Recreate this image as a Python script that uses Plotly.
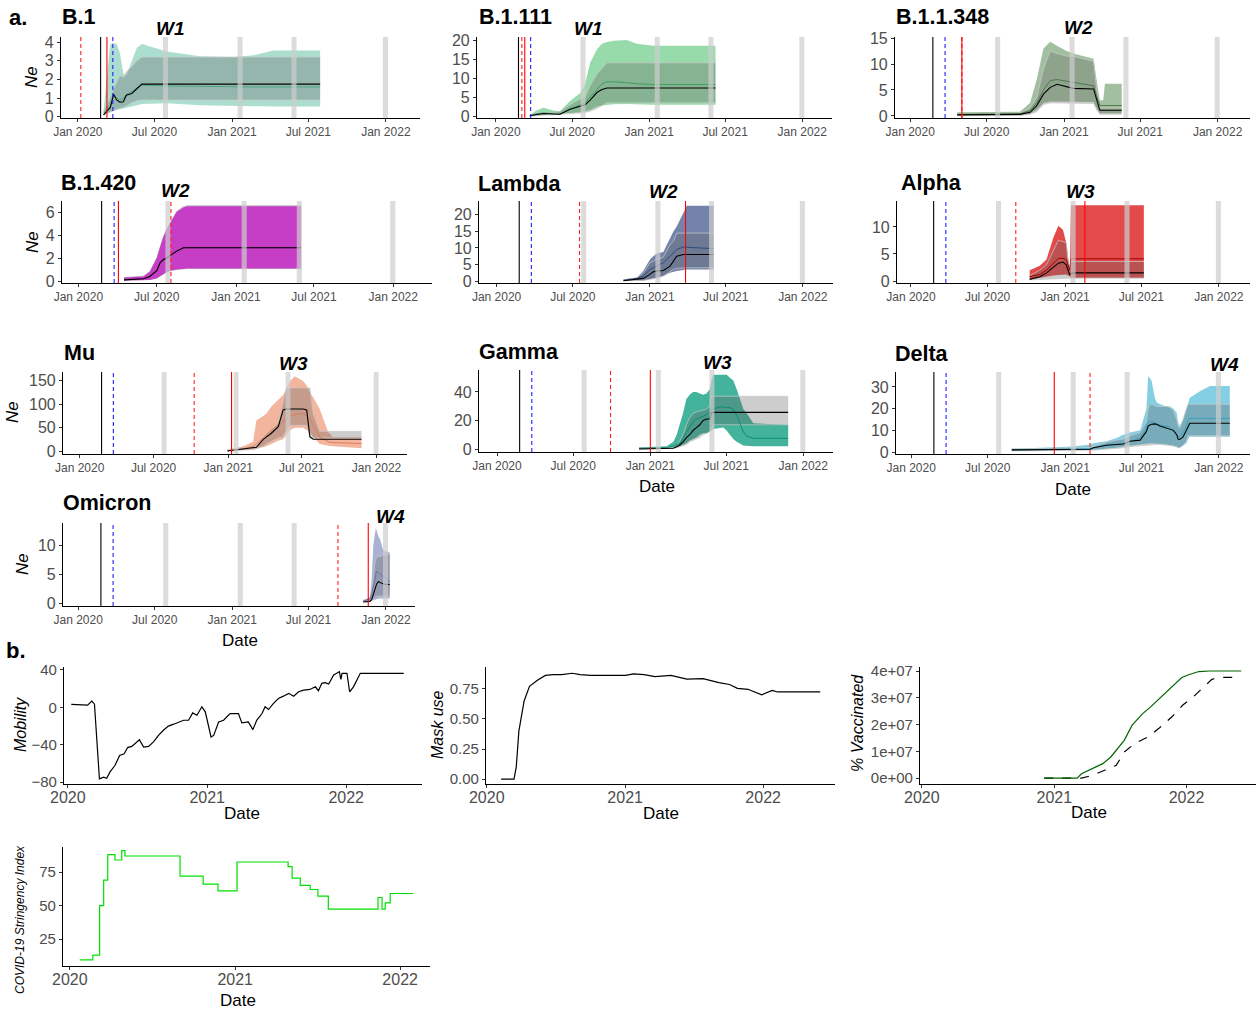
import plotly.graph_objects as go

FIG_W, FIG_H = 1257, 1010
FONT = "Liberation Sans, Arial, sans-serif"

# ---------------- tick labels ----------------
MONTH_TICKS = ["2020-01-01", "2020-07-01", "2021-01-01", "2021-07-01", "2022-01-01"]
MONTH_LABELS = ["Jan 2020", "Jul 2020", "Jan 2021", "Jul 2021", "Jan 2022"]
YEAR_TICKS = ["2020-01-01", "2021-01-01", "2022-01-01"]
YEAR_LABELS = ["2020", "2021", "2022"]

# ---------------- common event markers ----------------
GREY_BAR_START = ["2020-07-21", "2021-01-14", "2021-05-22", "2021-12-25"]
GREY_BAR_END = ["2020-08-02", "2021-01-26", "2021-06-03", "2022-01-06"]
BLACK_LINE_DATE = "2020-02-24"
BLUE_LINE_DATE = "2020-03-24"

VARIANTS = ["B.1", "B.1.111", "B.1.1.348", "B.1.420", "Lambda", "Alpha", "Mu", "Gamma", "Delta", "Omicron"]
WAVES = ["W1", "W1", "W2", "W2", "W2", "W3", "W3", "W3", "W4", "W4"]
RED_DASHED_DATES = ["2020-01-08", "2020-03-03", "2020-05-03", "2020-08-03", "2020-07-17",
                    "2020-09-06", "2020-10-09", "2020-09-28", "2021-03-01", "2021-09-09"]
RED_SOLID_DATES = ["2020-03-10", "2020-03-10", "2020-05-03", "2020-04-03", "2021-03-27",
                   "2021-02-17", "2021-01-09", "2021-01-01", "2020-12-06", "2021-11-20"]

# ---------------- Ne data ----------------
B1_DATES = ["2020-03-02", "2020-03-18", "2020-03-26", "2020-04-02", "2020-04-10", "2020-04-18", "2020-04-25",
            "2020-05-08", "2020-05-20", "2020-06-01", "2020-07-30", "2020-10-17", "2021-01-04", "2021-02-21",
            "2021-04-09", "2021-07-29"]
B1_COL_LO = [0.1, 0.25, 0.35, 0.4, 0.4, 0.45, 0.5, 0.55, 0.62, 0.68, 0.72, 0.62, 0.58, 0.56, 0.55, 0.55]
B1_COL_HI = [0.3, 3.9, 3.95, 3.9, 3.4, 2.3, 2.2, 3.0, 3.7, 3.9, 3.5, 3.25, 3.2, 3.3, 3.55, 3.55]
B1_GR_LO = [0.1, 0.25, 0.35, 0.4, 0.45, 0.5, 0.6, 0.75, 0.85, 0.9, 0.9, 0.9, 0.9, 0.9, 0.9, 0.9]
B1_GR_HI = [0.3, 1.0, 1.5, 1.8, 2.2, 2.1, 2.4, 2.7, 3.0, 3.2, 3.2, 3.2, 3.2, 3.2, 3.2, 3.2]
B1_COL_MED = [0.1, 0.6, 1.2, 1.0, 0.9, 1.0, 1.2, 1.35, 1.55, 1.7, 1.65, 1.62, 1.6, 1.6, 1.6, 1.6]
B1_MED = [0.1, 0.5, 1.2, 0.9, 0.78, 0.8, 1.15, 1.25, 1.5, 1.75, 1.75, 1.75, 1.75, 1.75, 1.75, 1.75]

B111_DATES = ["2020-03-22", "2020-04-07", "2020-04-23", "2020-05-17", "2020-06-02", "2020-06-26", "2020-07-20",
              "2020-08-01", "2020-08-13", "2020-08-29", "2020-09-10", "2020-09-22", "2020-10-08", "2020-11-08",
              "2020-12-02", "2021-01-11", "2021-06-08"]
B111_COL_LO = [0, 0.2, 0.3, 0.4, 0.5, 0.8, 1.0, 1.2, 1.6, 2.5, 2.8, 3.0, 3.1, 3.2, 3.1, 3.0, 3.0]
B111_COL_HI = [0.2, 1.5, 2.2, 1.5, 1.3, 4.0, 6.0, 8.5, 14, 17.5, 19, 19.5, 19.8, 20, 19, 18.5, 18.5]
B111_GR_LO = [0, 0.1, 0.2, 0.3, 0.4, 0.5, 0.8, 1.0, 1.3, 2.0, 2.8, 3.5, 3.5, 3.5, 3.5, 3.5, 3.5]
B111_GR_HI = [0.2, 0.8, 1.0, 1.0, 1.2, 3.0, 4.5, 5.0, 8.0, 11.0, 12.5, 14, 14, 14, 14, 14, 14]
B111_COL_MED = [0.1, 0.6, 0.8, 0.6, 0.5, 1.8, 2.8, 3.5, 5.0, 7.0, 8.5, 9.0, 9.0, 8.8, 8.5, 8.3, 8.3]
B111_MED = [0.1, 0.5, 0.7, 0.55, 0.5, 1.8, 2.5, 3.0, 4.2, 6.2, 7.0, 7.4, 7.4, 7.4, 7.4, 7.4, 7.4]

B11348_DATES = ["2020-04-22", "2020-09-18", "2020-10-12", "2020-10-28", "2020-11-13", "2020-11-29", "2020-12-15",
                "2021-01-07", "2021-01-23", "2021-03-12", "2021-03-21", "2021-03-27", "2021-04-04", "2021-04-08",
                "2021-05-18"]
B11348_COL_LO = [0.1, 0.1, 0.4, 1.2, 2.5, 2.8, 2.8, 2.8, 2.8, 2.7, 1.2, 0.5, 0.5, 0.5, 0.5]
B11348_COL_HI = [0.7, 0.8, 2.5, 7, 13, 14.3, 13.5, 12.5, 12, 11, 6, 3, 3, 6.2, 6.2]
B11348_GR_LO = [0.05, 0.1, 0.3, 0.8, 2.2, 2.5, 2.5, 2.5, 2.5, 2.4, 1.0, 0.3, 0.3, 0.3, 0.3]
B11348_GR_HI = [0.3, 0.5, 1.5, 3.5, 9, 12.5, 12, 11.5, 11.5, 10.5, 4, 1.5, 1.5, 1.5, 1.5]
B11348_COL_MED = [0.3, 0.4, 1.0, 2.5, 5, 6.8, 7, 6.7, 6.5, 5.8, 3.5, 2, 2, 2, 2]
B11348_MED = [0.2, 0.3, 0.7, 2, 4.2, 5.5, 6.1, 5.6, 5.3, 5.2, 3, 1.1, 1.1, 1.1, 1.1]

B1420_DATES = ["2020-04-16", "2020-05-31", "2020-06-15", "2020-07-01", "2020-07-09", "2020-07-16", "2020-07-24",
               "2020-08-01", "2020-08-16", "2020-09-01", "2020-09-10", "2020-10-09", "2021-06-01"]
B1420_COL_LO = [0.05, 0.08, 0.1, 0.25, 0.4, 0.6, 0.8, 0.9, 1.0, 1.05, 1.1, 1.1, 1.1]
B1420_COL_HI = [0.3, 0.4, 0.8, 2.0, 3.0, 3.8, 4.5, 5.0, 6.0, 6.4, 6.5, 6.5, 6.5]
B1420_GR_LO = [0.03, 0.05, 0.08, 0.2, 0.35, 0.55, 0.75, 0.85, 0.95, 1.0, 1.05, 1.05, 1.05]
B1420_GR_HI = [0.35, 0.45, 0.9, 2.1, 3.1, 3.9, 4.6, 5.1, 6.1, 6.5, 6.6, 6.6, 6.6]
B1420_COL_MED = [0.1, 0.2, 0.4, 0.9, 1.6, 1.85, 2.0, 2.2, 2.6, 2.9, 2.9, 2.9, 2.9]
B1420_MED = [0.1, 0.2, 0.4, 0.9, 1.6, 1.85, 2.0, 2.2, 2.6, 2.9, 2.9, 2.9, 2.9]

LAMBDA_DATES = ["2020-10-30", "2020-12-01", "2020-12-16", "2021-01-01", "2021-01-09", "2021-01-17", "2021-02-02",
                "2021-02-18", "2021-02-26", "2021-03-06", "2021-03-22", "2021-03-30", "2021-06-02"]
LAMBDA_COL_LO = [0, 0, 0.1, 0.5, 0.8, 1.0, 1.5, 2.5, 2.8, 3.0, 3.3, 3.5, 3.5]
LAMBDA_COL_HI = [0.5, 1.0, 3.0, 6.5, 7.5, 8.3, 8.8, 13, 15, 16.5, 21, 22.8, 22.8]
LAMBDA_GR_LO = [0.1, 0.1, 0.2, 0.5, 0.7, 0.8, 1.5, 3.0, 3.5, 3.8, 4.0, 4.0, 4.0]
LAMBDA_GR_HI = [0.3, 1.0, 2.5, 5.5, 6.0, 6.5, 7.2, 11, 12, 14.5, 14.5, 14.5, 14.5]
LAMBDA_COL_MED = [0.2, 0.8, 1.5, 3.5, 4.0, 4.5, 5.5, 7.5, 8.5, 9.5, 10.3, 10.2, 9.8]
LAMBDA_MED = [0.1, 0.5, 0.8, 2.0, 2.8, 3.0, 3.2, 4.5, 6.0, 7.5, 8.0, 8.0, 8.0]

ALPHA_DATES = ["2020-10-09", "2020-11-02", "2020-11-18", "2020-12-04", "2020-12-16", "2020-12-27", "2021-01-04",
               "2021-01-08", "2021-01-12", "2021-01-15", "2021-01-20", "2021-07-07"]
ALPHA_COL_LO = [0.3, 0.6, 0.9, 1.0, 1.1, 1.2, 1.2, 1.0, 0.9, 0.6, 0.6, 0.6]
ALPHA_COL_HI = [2.0, 2.8, 4.0, 8.0, 10.2, 9.5, 7.0, 4.0, 2.0, 14, 14, 14]
ALPHA_GR_LO = [0.2, 0.3, 0.4, 0.5, 0.5, 0.5, 0.5, 0.5, 0.5, 0.5, 0.5, 0.5]
ALPHA_GR_HI = [1.0, 2.0, 3.0, 5.5, 7.5, 7.3, 7.0, 3.5, 2.5, 3.6, 3.6, 3.6]
ALPHA_COL_MED = [0.8, 1.2, 2.0, 3.3, 4.2, 4.2, 4.0, 3.0, 2.0, 4.1, 4.1, 4.1]
ALPHA_MED = [0.3, 0.8, 1.5, 2.5, 3.3, 3.5, 3.0, 2.0, 1.2, 1.4, 1.5, 1.5]

MU_DATES = ["2020-12-30", "2021-02-07", "2021-03-03", "2021-03-11", "2021-03-28", "2021-04-05", "2021-04-17",
            "2021-05-04", "2021-05-16", "2021-05-24", "2021-06-02", "2021-06-14", "2021-06-26", "2021-07-04",
            "2021-07-13", "2021-07-21", "2021-07-29", "2021-08-14", "2021-09-04", "2021-09-16", "2021-11-25"]
MU_COL_LO = [0, 1, 3, 5, 8, 10, 15, 22, 25, 35, 45, 50, 50, 50, 45, 40, 30, 15, 11, 10, 6]
MU_COL_HI = [2, 10, 20, 65, 75, 80, 95, 110, 120, 135, 150, 160, 155, 150, 140, 125, 115, 90, 40, 30, 30]
MU_GR_LO = [0, 1, 3, 5, 10, 15, 20, 28, 30, 45, 55, 55, 55, 55, 55, 30, 28, 28, 28, 28, 28]
MU_GR_HI = [3, 6, 8, 10, 25, 35, 45, 60, 105, 135, 135, 135, 135, 135, 135, 135, 80, 42, 42, 42, 42]
MU_COL_MED = [0.5, 5, 10, 15, 28, 35, 45, 55, 62, 68, 75, 78, 80, 80, 75, 70, 55, 30, 20, 18, 16]
MU_MED = [0, 5, 7, 8, 25, 30, 38, 52, 88, 90, 90, 90, 90, 90, 88, 30, 25, 25, 25, 25, 25]

GAMMA_DATES = ["2020-12-05", "2021-02-09", "2021-02-25", "2021-03-05", "2021-03-13", "2021-03-20", "2021-03-28",
               "2021-04-05", "2021-04-13", "2021-04-21", "2021-04-29", "2021-05-07", "2021-05-15", "2021-05-23",
               "2021-05-27", "2021-05-31", "2021-06-16", "2021-06-24", "2021-07-02", "2021-07-10", "2021-07-18",
               "2021-07-26", "2021-08-03", "2021-08-11", "2021-08-19", "2021-08-27", "2021-09-04", "2021-11-26"]
GAMMA_COL_LO = [0, 0.3, 0.5, 1, 2, 3, 4, 6, 7, 8, 10, 11, 11, 12, 13, 14, 15, 15, 13, 10, 7, 5, 3.5, 2.5, 2.2, 2, 2, 2]
GAMMA_COL_HI = [1, 2, 5, 10, 18, 25, 35, 38, 40, 40, 39, 38, 39, 42, 48, 52, 52, 52, 52, 50, 48, 42, 35, 28, 25, 21, 18, 17]
GAMMA_GR_LO = [0, 0.3, 0.5, 0.8, 1.5, 2, 3, 5, 6, 7, 8, 10, 11, 12, 14, 17, 17, 17, 17, 17, 17, 17, 17, 17, 17, 17, 17, 17]
GAMMA_GR_HI = [1, 1.2, 1.5, 3, 6, 10, 17, 22, 25, 26, 26.5, 27, 28, 30, 37, 37, 37, 37, 37, 37, 37, 37, 37, 37, 37, 37, 37, 37]
GAMMA_COL_MED = [0.5, 1, 2, 3, 4, 8, 12, 15, 19, 21, 22, 23, 24, 26, 27, 28, 29.5, 29.5, 29.5, 29, 28, 24, 18, 12, 9, 8, 7.5, 7.5]
GAMMA_MED = [0, 0.3, 0.5, 1.5, 3, 5, 8, 10, 13, 15, 17, 20, 21, 21, 25.7, 25.7, 25.7, 25.7, 25.7, 25.7, 25.7, 25.7,
             25.7, 25.7, 25.7, 25.7, 25.7, 25.7]

DELTA_DATES = ["2020-08-27", "2021-01-20", "2021-03-01", "2021-03-09", "2021-04-01", "2021-04-09", "2021-05-03",
               "2021-05-19", "2021-06-04", "2021-06-28", "2021-07-13", "2021-07-17", "2021-07-21", "2021-07-25",
               "2021-08-02", "2021-08-06", "2021-08-14", "2021-08-30", "2021-09-07", "2021-09-15", "2021-09-23",
               "2021-09-26", "2021-09-30", "2021-10-08", "2021-10-16", "2021-10-20", "2021-10-24", "2021-11-17",
               "2021-12-11", "2022-01-27"]
DELTA_COL_LO = [0.5, 0.7, 0.8, 1.0, 1.4, 1.5, 2.0, 2.5, 3.0, 3.5, 3.8, 4.0, 4.0, 4.0, 4.0, 4.0, 3.8, 3.5, 3.2, 3.0,
                2.5, 2.0, 2.0, 3.0, 4.0, 6.0, 7.0, 7.0, 7.0, 7.0]
DELTA_COL_HI = [1.5, 2.5, 3.5, 4.0, 4.8, 5.0, 6.5, 8.0, 9.0, 10.0, 20, 35, 34, 33, 25, 23, 22, 21, 21, 20,
                18, 14, 12, 15, 20, 23, 25, 28, 30.5, 30.5]
DELTA_GR_LO = [0.5, 0.6, 0.7, 0.9, 1.2, 1.3, 1.7, 2.0, 2.5, 3.0, 3.2, 3.3, 3.4, 3.5, 3.5, 3.5, 3.5, 3.3, 3.0, 2.8,
               2.3, 2.0, 2.0, 3.0, 5.0, 7.5, 7.5, 7.5, 7.5, 7.5]
DELTA_GR_HI = [1.5, 2.0, 2.0, 2.5, 4.0, 4.5, 5.5, 6.0, 7.5, 9.0, 14, 20, 22, 22, 21.5, 21, 21, 21, 20.5, 19,
               15, 12, 11, 15, 20, 22, 22, 22, 22, 22]
DELTA_COL_MED = [1.0, 1.2, 1.5, 2.0, 3.0, 3.2, 3.6, 4.0, 5.0, 6.5, 11, 13.5, 14, 14, 13.5, 13, 12.5, 12, 11.5, 10,
                 8, 7, 7, 9, 12, 15, 15.5, 15.5, 15.5, 15.5]
DELTA_MED = [1.0, 1.2, 1.3, 2.0, 3.0, 3.1, 3.5, 3.7, 5.0, 5.5, 9.5, 12, 12.5, 12.8, 13, 12.8, 12, 11, 10.5, 10.0,
             8, 6, 5.8, 7, 10, 12, 13.3, 13.3, 13.3, 13.3]

OMICRON_DATES = ["2021-11-08", "2021-11-24", "2021-11-28", "2021-12-02", "2021-12-06", "2021-12-08", "2021-12-10",
                 "2021-12-14", "2021-12-18", "2021-12-26", "2022-01-10"]
OMICRON_COL_LO = [0.2, 0.3, 0.4, 0.5, 0.6, 0.7, 0.8, 0.8, 0.8, 0.8, 0.8]
OMICRON_COL_HI = [0.5, 1.0, 4, 10, 12, 13, 12.5, 11.5, 11, 9, 8.7]
OMICRON_GR_LO = [0.2, 0.3, 0.5, 0.8, 1.0, 1.1, 1.2, 1.2, 1.2, 1.2, 1.2]
OMICRON_GR_HI = [0.5, 0.8, 2, 5, 7, 7.5, 8, 8, 8, 8.3, 8.5]
OMICRON_COL_MED = [0.3, 0.8, 1.5, 3, 4.5, 5.2, 5.5, 5.3, 5, 4.5, 3.7]
OMICRON_MED = [0.2, 0.3, 0.6, 1.5, 2.5, 3.0, 3.3, 3.7, 3.6, 3.3, 3.2]

# ---------------- covariates ----------------
MOB_DATES = ["2020-01-10", "2020-02-22", "2020-03-04", "2020-03-11", "2020-03-24", "2020-04-04", "2020-04-12",
             "2020-04-21", "2020-05-04", "2020-05-16", "2020-05-28", "2020-06-06", "2020-06-17", "2020-06-26",
             "2020-07-07", "2020-07-18", "2020-07-31", "2020-08-13", "2020-08-26", "2020-09-08", "2020-09-21",
             "2020-10-05", "2020-10-18", "2020-10-31", "2020-11-13", "2020-11-24", "2020-12-05", "2020-12-18",
             "2020-12-27", "2021-01-11", "2021-01-18", "2021-01-31", "2021-02-13", "2021-03-02", "2021-03-24",
             "2021-04-02", "2021-04-19", "2021-05-01", "2021-05-11", "2021-05-25", "2021-06-02", "2021-06-11",
             "2021-06-24", "2021-07-07", "2021-07-20", "2021-08-03", "2021-08-16", "2021-08-29", "2021-09-11",
             "2021-09-28", "2021-10-12", "2021-10-20", "2021-10-29", "2021-11-07", "2021-11-16", "2021-11-29",
             "2021-12-07", "2021-12-14", "2021-12-18", "2021-12-21", "2022-01-03", "2022-01-10", "2022-01-20",
             "2022-02-07", "2022-06-01"]
MOB_VALUES = [3.1, 2.4, 6.7, 3.4, -76.5, -74.7, -75.8, -69, -62, -51.4, -49.6, -43, -41.7, -38.9, -34.6, -42.4,
              -41.7, -37, -30, -24.5, -20, -18, -15.6, -13.8, -13.8, -5.9, -8.4, 0.6, -4.8, -31.7, -30, -15.6,
              -13.8, -6.6, -6.6, -16.6, -15.6, -23.8, -13.8, -6.6, 0.6, -2.3, 4.2, 9.5, 12, 15, 12, 16.7, 18.5,
              19.2, 22, 17.8, 25.7, 26.4, 25, 34.6, 36.4, 38.2, 30, 36.4, 36.4, 16.7, 22, 36.4, 36.4]

MASK_DATES = ["2020-02-08", "2020-03-13", "2020-03-19", "2020-03-26", "2020-04-09", "2020-04-23", "2020-05-14",
              "2020-06-04", "2020-06-25", "2020-07-17", "2020-08-14", "2020-09-04", "2020-10-02", "2020-10-30",
              "2020-12-12", "2021-01-02", "2021-01-23", "2021-02-20", "2021-03-21", "2021-05-02", "2021-06-13",
              "2021-07-26", "2021-09-06", "2021-10-04", "2021-10-25", "2021-11-22", "2021-12-28", "2022-01-25",
              "2022-02-08", "2022-06-01"]
MASK_VALUES = [0, 0, 0.10, 0.40, 0.65, 0.77, 0.82, 0.86, 0.867, 0.867, 0.878, 0.867, 0.86, 0.862, 0.86, 0.86,
               0.873, 0.867, 0.85, 0.86, 0.83, 0.834, 0.80, 0.785, 0.753, 0.745, 0.70, 0.736, 0.723, 0.723]

VAX_FULL_DATES = ["2020-12-04", "2021-03-05", "2021-03-17", "2021-04-16", "2021-05-15", "2021-06-06", "2021-06-21",
                  "2021-07-13", "2021-08-04", "2021-09-02", "2021-09-24", "2021-10-24", "2021-11-22", "2021-12-19",
                  "2022-01-05", "2022-02-04", "2022-03-05", "2022-06-01"]
VAX_FULL_VALUES = [0, 0, 1.6e6, 3.5e6, 5.4e6, 7.9e6, 1.04e7, 1.41e7, 1.98e7, 2.41e7, 2.66e7, 3.04e7, 3.41e7,
                   3.76e7, 3.85e7, 3.98e7, 4.0e7, 4.0e7]
VAX_PART_DATES = ["2020-12-04", "2021-03-17", "2021-04-16", "2021-05-22", "2021-06-21", "2021-07-13", "2021-08-11",
                  "2021-09-17", "2021-10-16", "2021-11-22", "2021-12-22", "2022-01-20", "2022-02-18", "2022-03-12",
                  "2022-04-04", "2022-06-01"]
VAX_PART_VALUES = [0, 0, 1.0e6, 2.9e6, 4.75e6, 9.75e6, 1.29e7, 1.54e7, 1.85e7, 2.29e7, 2.73e7, 3.04e7, 3.41e7,
                   3.69e7, 3.76e7, 3.76e7]

STRING_DATES = ["2020-01-23", "2020-02-21", "2020-03-07", "2020-03-16", "2020-03-25", "2020-04-10", "2020-04-25",
                "2020-05-02", "2020-09-01", "2020-10-22", "2020-11-24", "2021-01-05", "2021-04-28", "2021-05-07",
                "2021-05-25", "2021-06-16", "2021-07-03", "2021-07-26", "2021-11-13", "2021-11-22", "2021-11-29",
                "2021-12-10", "2022-01-30"]
STRING_VALUES = [9.4, 13, 50, 69, 88, 84, 91, 87, 72, 66, 61, 82.5, 79, 70.5, 65, 62, 57, 47.4, 56, 47.4, 52, 59, 59]

# ---------------- per-panel styling / layout (pixels) ----------------
NE_DATA = {
    "B.1": (B1_DATES, B1_COL_LO, B1_COL_HI, B1_GR_LO, B1_GR_HI, B1_COL_MED, B1_MED),
    "B.1.111": (B111_DATES, B111_COL_LO, B111_COL_HI, B111_GR_LO, B111_GR_HI, B111_COL_MED, B111_MED),
    "B.1.1.348": (B11348_DATES, B11348_COL_LO, B11348_COL_HI, B11348_GR_LO, B11348_GR_HI, B11348_COL_MED, B11348_MED),
    "B.1.420": (B1420_DATES, B1420_COL_LO, B1420_COL_HI, B1420_GR_LO, B1420_GR_HI, B1420_COL_MED, B1420_MED),
    "Lambda": (LAMBDA_DATES, LAMBDA_COL_LO, LAMBDA_COL_HI, LAMBDA_GR_LO, LAMBDA_GR_HI, LAMBDA_COL_MED, LAMBDA_MED),
    "Alpha": (ALPHA_DATES, ALPHA_COL_LO, ALPHA_COL_HI, ALPHA_GR_LO, ALPHA_GR_HI, ALPHA_COL_MED, ALPHA_MED),
    "Mu": (MU_DATES, MU_COL_LO, MU_COL_HI, MU_GR_LO, MU_GR_HI, MU_COL_MED, MU_MED),
    "Gamma": (GAMMA_DATES, GAMMA_COL_LO, GAMMA_COL_HI, GAMMA_GR_LO, GAMMA_GR_HI, GAMMA_COL_MED, GAMMA_MED),
    "Delta": (DELTA_DATES, DELTA_COL_LO, DELTA_COL_HI, DELTA_GR_LO, DELTA_GR_HI, DELTA_COL_MED, DELTA_MED),
    "Omicron": (OMICRON_DATES, OMICRON_COL_LO, OMICRON_COL_HI, OMICRON_GR_LO, OMICRON_GR_HI, OMICRON_COL_MED, OMICRON_MED),
}

STYLE = {
    "B.1": ("rgba(102,194,165,0.55)", "#4aa587"),
    "B.1.111": ("rgba(65,190,100,0.55)", "#3c9e5c"),
    "B.1.1.348": ("rgba(85,140,80,0.55)", "#4d7a4a"),
    "B.1.420": ("rgba(200,40,200,0.85)", "#a01fa0"),
    "Lambda": ("rgba(40,65,125,0.65)", "#2f4a80"),
    "Alpha": ("rgba(220,30,30,0.8)", "#a00000"),
    "Mu": ("rgba(235,120,80,0.55)", "#d9805f"),
    "Gamma": ("rgba(20,160,130,0.8)", "#0c8c74"),
    "Delta": ("rgba(50,175,210,0.6)", "#3a9fbf"),
    "Omicron": ("rgba(100,115,175,0.55)", "#6a73a8"),
}
GREY_FILL = "rgba(100,100,100,0.32)"
GREY_EDGE = "rgba(200,200,200,0.9)"

# box = (left, right, top, bottom) in pixels
PANEL_BOX = {
    "B.1": (61, 420, 37, 118), "B.1.111": (477, 832, 37, 118), "B.1.1.348": (895, 1250, 37, 118),
    "B.1.420": (62, 432, 201, 283), "Lambda": (479, 833, 201, 283), "Alpha": (897, 1250, 201, 283),
    "Mu": (63, 407, 372, 454), "Gamma": (479, 833, 370, 452), "Delta": (896, 1250, 372, 454),
    "Omicron": (63, 415, 523, 606),
}
X_RANGE = {
    "B.1": ("2019-11-22", "2022-03-23"), "B.1.111": ("2019-11-17", "2022-03-13"),
    "B.1.1.348": ("2019-11-26", "2022-03-19"), "B.1.420": ("2019-11-24", "2022-04-01"),
    "Lambda": ("2019-11-20", "2022-03-14"), "Alpha": ("2019-11-29", "2022-03-16"),
    "Mu": ("2019-11-21", "2022-03-17"), "Gamma": ("2019-11-19", "2022-03-13"),
    "Delta": ("2019-11-26", "2022-03-16"), "Omicron": ("2019-11-26", "2022-03-11"),
}
Y_RANGE = {
    "B.1": (-0.07, 4.28), "B.1.111": (-0.5, 20.8), "B.1.1.348": (-0.4, 15.2), "B.1.420": (-0.17, 6.96),
    "Lambda": (-0.6, 24.2), "Alpha": (-0.37, 14.8), "Mu": (-6.4, 169), "Gamma": (-2.1, 55.4),
    "Delta": (-0.9, 36.9), "Omicron": (-0.5, 13.8),
}
Y_TICKS = {
    "B.1": [0, 1, 2, 3, 4], "B.1.111": [0, 5, 10, 15, 20], "B.1.1.348": [0, 5, 10, 15], "B.1.420": [0, 2, 4, 6],
    "Lambda": [0, 5, 10, 15, 20], "Alpha": [0, 5, 10], "Mu": [0, 50, 100, 150], "Gamma": [0, 20, 40],
    "Delta": [0, 10, 20, 30], "Omicron": [0, 5, 10],
}
TITLE_POS = {
    "B.1": (60, 17), "B.1.111": (477, 17), "B.1.1.348": (894, 17), "B.1.420": (59, 183), "Lambda": (476, 184),
    "Alpha": (899, 183), "Mu": (62, 353), "Gamma": (477, 352), "Delta": (893, 354), "Omicron": (61, 503),
}
WAVE_POS = {
    "B.1": (170, 28), "B.1.111": (588, 28), "B.1.1.348": (1078, 27), "B.1.420": (175, 191), "Lambda": (663, 192),
    "Alpha": (1080, 192), "Mu": (293, 363), "Gamma": (717, 362), "Delta": (1224, 364), "Omicron": (390, 516),
}
NE_LABEL_POS = {"B.1": (32, 77), "B.1.420": (32, 242), "Mu": (13, 412), "Omicron": (22, 564)}
DATE_LABEL_POS = [(657, 486), (1073, 489), (240, 640), (242, 813), (661, 813), (1089, 812), (238, 1000)]


def fx(p):
    return p / FIG_W


def fy(p):
    return 1 - p / FIG_H


fig = go.Figure()
layout = dict(width=FIG_W, height=FIG_H, margin=dict(l=0, r=0, t=0, b=0, pad=0, autoexpand=False), showlegend=False,
              template="none", plot_bgcolor="white", paper_bgcolor="white",
              font=dict(family=FONT, color="black"))
shapes = []
annotations = []


def axis_names(i):
    s = "" if i == 1 else str(i)
    return "x" + s, "y" + s, "xaxis" + s, "yaxis" + s


def base_axis():
    return dict(showline=True, linecolor="black", linewidth=1.1, ticks="outside", ticklen=3,
                tickcolor="#333333", showgrid=False, zeroline=False, fixedrange=True, automargin=False)


def band(xa, ya, x, lo, hi, fill, edge):
    fig.add_trace(go.Scatter(x=x, y=lo, xaxis=xa, yaxis=ya, mode="lines",
                             line=dict(width=0.8 if edge else 0, color=edge or "rgba(0,0,0,0)"), hoverinfo="skip"))
    fig.add_trace(go.Scatter(x=x, y=hi, xaxis=xa, yaxis=ya, mode="lines", fill="tonexty", fillcolor=fill,
                             line=dict(width=0.8 if edge else 0, color=edge or "rgba(0,0,0,0)"), hoverinfo="skip"))


for i, name in enumerate(VARIANTS, start=1):
    xa, ya, xk, yk = axis_names(i)
    dates, clo, chi, glo, ghi, cmed, med = NE_DATA[name]
    fill, medc = STYLE[name]
    if name == "B.1.420":
        band(xa, ya, dates, glo, ghi, "rgba(190,190,190,1)", None)
        band(xa, ya, dates, clo, chi, fill, None)
    else:
        band(xa, ya, dates, clo, chi, fill, None)
        band(xa, ya, dates, glo, ghi, GREY_FILL, GREY_EDGE)
    fig.add_trace(go.Scatter(x=dates, y=cmed, xaxis=xa, yaxis=ya, mode="lines",
                             line=dict(color=medc, width=1), hoverinfo="skip"))
    fig.add_trace(go.Scatter(x=dates, y=med, xaxis=xa, yaxis=ya, mode="lines",
                             line=dict(color="black", width=1.1), hoverinfo="skip"))

    l, r, t, b = PANEL_BOX[name]
    xax = base_axis()
    xax.update(domain=[fx(l), fx(r)], anchor=ya, type="date", range=list(X_RANGE[name]),
               tickvals=MONTH_TICKS, ticktext=MONTH_LABELS, tickfont=dict(size=12, color="#4d4d4d"))
    yax = base_axis()
    yax.update(domain=[fy(b), fy(t)], anchor=xa, range=list(Y_RANGE[name]), tickvals=Y_TICKS[name],
               tickfont=dict(size=16, color="#4d4d4d"))
    layout[xk] = xax
    layout[yk] = yax

    yref = ya + " domain"
    for s, e in zip(GREY_BAR_START, GREY_BAR_END):
        shapes.append(dict(type="rect", xref=xa, yref=yref, x0=s, x1=e, y0=0, y1=1,
                           fillcolor="rgba(205,205,205,0.7)", line=dict(width=0), layer="above"))
    vlines = [(BLACK_LINE_DATE, "black", "solid"), (BLUE_LINE_DATE, "#2020ff", "4px,3px"),
              (RED_DASHED_DATES[i - 1], "#ff2020", "4px,3px"), (RED_SOLID_DATES[i - 1], "#ff0000", "solid")]
    for d, c, dash in vlines:
        shapes.append(dict(type="line", xref=xa, yref=yref, x0=d, x1=d, y0=0, y1=1,
                           line=dict(color=c, width=1.1, dash=dash), layer="above"))

    tx, ty = TITLE_POS[name]
    annotations.append(dict(text="<b>%s</b>" % name, x=fx(tx), y=fy(ty), xref="paper", yref="paper",
                            xanchor="left", yanchor="middle", showarrow=False, font=dict(size=21.5, color="black")))
    wx, wy = WAVE_POS[name]
    annotations.append(dict(text="<b><i>%s</i></b>" % WAVES[i - 1], x=fx(wx), y=fy(wy), xref="paper", yref="paper",
                            xanchor="center", yanchor="middle", showarrow=False, font=dict(size=19, color="black")))
    if name in NE_LABEL_POS:
        nx, ny = NE_LABEL_POS[name]
        annotations.append(dict(text="<i>Ne</i>", x=fx(nx), y=fy(ny), xref="paper", yref="paper", textangle=-90,
                                xanchor="center", yanchor="middle", showarrow=False, font=dict(size=17)))

# ---------------- section b ----------------
B_PANELS = [
    dict(box=(64, 422, 667, 784), xr=("2019-12-22", "2022-07-19"), yr=(-82, 43.2),
         yt=[-80, -40, 0, 40], ytt=None, title="Mobility", tpos=(20, 725), tsize=16),
    dict(box=(486, 835, 667, 784), xr=("2019-12-30", "2022-07-10"), yr=(-0.04, 0.93),
         yt=[0, 0.25, 0.5, 0.75], ytt=["0.00", "0.25", "0.50", "0.75"], title="Mask use", tpos=(437, 725), tsize=16),
    dict(box=(920, 1256, 667, 784), xr=("2019-12-27", "2022-07-12"), yr=(-2.2e6, 4.15e7),
         yt=[0, 1e7, 2e7, 3e7, 4e7], ytt=["0e+00", "1e+07", "2e+07", "3e+07", "4e+07"], title="% Vaccinated",
         tpos=(857, 723), tsize=16),
    dict(box=(63, 430, 847, 966), xr=("2019-12-17", "2022-03-08"), yr=(4.9, 93.7),
         yt=[25, 50, 75], ytt=None, title="COVID-19 Stringency Index", tpos=(20, 920), tsize=12),
]
B_SERIES = [
    [(MOB_DATES, MOB_VALUES, "black", "solid", "linear")],
    [(MASK_DATES, MASK_VALUES, "black", "solid", "linear")],
    [(VAX_PART_DATES, VAX_PART_VALUES, "black", "dash", "linear"),
     (VAX_FULL_DATES, VAX_FULL_VALUES, "#006400", "solid", "linear")],
    [(STRING_DATES, STRING_VALUES, "#00e000", "solid", "hv")],
]

for k, (P, series) in enumerate(zip(B_PANELS, B_SERIES)):
    i = 11 + k
    xa, ya, xk, yk = axis_names(i)
    for xs, ys, c, dash, shape in series:
        fig.add_trace(go.Scatter(x=xs, y=ys, xaxis=xa, yaxis=ya, mode="lines",
                                 line=dict(color=c, width=1.2, dash=dash, shape=shape), hoverinfo="skip"))
    l, r, t, b = P["box"]
    xax = base_axis()
    xax.update(domain=[fx(l), fx(r)], anchor=ya, type="date", range=list(P["xr"]),
               tickvals=YEAR_TICKS, ticktext=YEAR_LABELS, tickfont=dict(size=16, color="#4d4d4d"),
               ticklabelstandoff=-4)
    yax = base_axis()
    yax.update(domain=[fy(b), fy(t)], anchor=xa, range=list(P["yr"]), tickvals=P["yt"],
               tickfont=dict(size=15, color="#4d4d4d"))
    if P["ytt"]:
        yax["ticktext"] = P["ytt"]
    layout[xk] = xax
    layout[yk] = yax
    tx, ty = P["tpos"]
    annotations.append(dict(text="<i>%s</i>" % P["title"], x=fx(tx), y=fy(ty), xref="paper", yref="paper",
                            textangle=-90, xanchor="center", yanchor="middle", showarrow=False,
                            font=dict(size=P["tsize"])))

for dx, dy in DATE_LABEL_POS:
    annotations.append(dict(text="Date", x=fx(dx), y=fy(dy), xref="paper", yref="paper", xanchor="center",
                            yanchor="middle", showarrow=False, font=dict(size=17)))

annotations.append(dict(text="<b>a.</b>", x=fx(7), y=fy(17), xref="paper", yref="paper", xanchor="left",
                        yanchor="middle", showarrow=False, font=dict(size=22)))
annotations.append(dict(text="<b>b.</b>", x=fx(4), y=fy(650), xref="paper", yref="paper", xanchor="left",
                        yanchor="middle", showarrow=False, font=dict(size=22)))

layout["shapes"] = shapes
layout["annotations"] = annotations
fig.update_layout(**layout)
fig.write_html("out.html", config={"displayModeBar": False},
               post_script="document.body.style.margin='0';document.body.style.overflow='hidden';")
